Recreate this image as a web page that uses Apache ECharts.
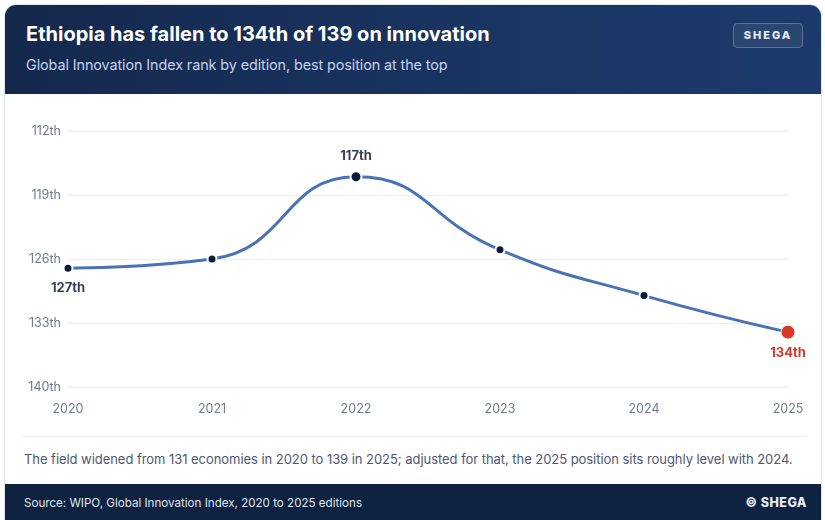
<!DOCTYPE html>
<html>
<head>
<meta charset="utf-8">
<script src="https://cdn.jsdelivr.net/npm/echarts@6/dist/echarts.min.js"></script>
<style>
  html, body { margin: 0; padding: 0; background: #ffffff; }
  body { width: 825px; height: 520px; overflow: hidden; font-family: Inter, "Noto Sans", sans-serif; }
  .card {
    position: absolute; left: 4px; top: 4px; width: 818px; height: 530px;
    border-radius: 12px; overflow: hidden; background: #fff;
    border: 1px solid #dfe3ea; box-sizing: border-box;
  }
  .head {
    position: absolute; left: 0; top: 0; right: 0; height: 89px;
    background: linear-gradient(90deg, #14284c 0%, #1a3563 60%, #1c3a6c 100%);
  }
  .title {
    position: absolute; left: 21px; top: 17px; color: #ffffff;
    font-size: 20px; font-weight: 700; letter-spacing: 0;
  }
  .sub {
    position: absolute; left: 21px; top: 51px; color: #c3d2ee;
    font-size: 14.4px; letter-spacing: -0.1px;
  }
  .badge {
    position: absolute; left: 728px; top: 18px; width: 70px; height: 25px;
    border: 1px solid #5b7299; border-radius: 4px; background: #2c4672;
    box-sizing: border-box; color: #e6ecf7; font-size: 11px; font-weight: 800;
    letter-spacing: 2px; text-align: center; line-height: 23px;
  }
  #chart { position: absolute; left: 0; top: 89px; width: 816px; height: 343px; }
  .rule { position: absolute; left: 18px; right: 14px; top: 431px; height: 1px; background: #eceef3; }
  .note {
    position: absolute; left: 19px; top: 446px; color: #4d5873;
    font-size: 13px; letter-spacing: -0.05px; white-space: nowrap;
  }
  .foot {
    position: absolute; left: 0; right: 0; top: 479px; height: 60px; background: #0f2241;
  }
  .src { position: absolute; left: 19px; top: 12px; color: #dfe6f2; font-size: 11.6px; }
  .copy { position: absolute; right: 14px; top: 11px; color: #e8edf6; font-size: 12.5px; font-weight: 800; letter-spacing: 0.5px; }
</style>
</head>
<body>
<div class="card">
  <div class="head">
    <div class="title">Ethiopia has fallen to 134th of 139 on innovation</div>
    <div class="sub">Global Innovation Index rank by edition, best position at the top</div>
    <div class="badge">SHEGA</div>
  </div>
  <div id="chart"></div>
  <div class="rule"></div>
  <div class="note">The field widened from 131 economies in 2020 to 139 in 2025; adjusted for that, the 2025 position sits roughly level with 2024.</div>
  <div class="foot">
    <div class="src">Source: WIPO, Global Innovation Index, 2020 to 2025 editions</div>
    <div class="copy">© SHEGA</div>
  </div>
</div>
<script>
var years = ['2020', '2021', '2022', '2023', '2024', '2025'];
var ranks = [127, 126, 117, 125, 130, 134];
var labelled = ['2020', '2022', '2025'];
var labelSide = { '2020': 'bottom', '2022': 'top', '2025': 'bottom' };

var points = [];
for (var i = 0; i < ranks.length; i++) {
  var y = years[i];
  var last = (i === ranks.length - 1);
  var item = {
    value: ranks[i],
    symbolSize: last ? 14 : (y === '2022' ? 11 : 9),
    itemStyle: {
      color: last ? '#d8392b' : '#0c1b3b',
      borderColor: '#ffffff',
      borderWidth: last ? 1 : 2
    },
    label: { show: false }
  };
  if (labelled.indexOf(y) >= 0) {
    item.label = {
      show: true,
      position: labelSide[y],
      distance: last ? 7 : 8,
      formatter: ranks[i] + 'th',
      color: last ? '#d6392c' : '#3a4256',
      fontWeight: 700,
      fontSize: 13,
      fontFamily: 'Inter'
    };
  }
  points.push(item);
}

var chart = echarts.init(document.getElementById('chart'));
chart.setOption({
  animation: false,
  grid: { left: 63, right: 33, top: 37, bottom: 50 },
  xAxis: {
    type: 'category',
    data: years,
    boundaryGap: false,
    axisLine: { show: false },
    axisTick: { show: false },
    axisLabel: { color: '#6f7a90', fontSize: 12.5, fontFamily: 'Inter', margin: 16 }
  },
  yAxis: {
    type: 'value',
    inverse: true,
    min: 112,
    max: 140,
    interval: 7,
    axisLine: { show: false },
    axisTick: { show: false },
    axisLabel: {
      color: '#6f7a90', fontSize: 12.5, fontFamily: 'Inter', margin: 7,
      formatter: function (v) { return v + 'th'; }
    },
    splitLine: { lineStyle: { color: '#eceef4', width: 1 } }
  },
  series: [{
    type: 'line',
    data: points,
    smooth: 0.5,
    symbol: 'circle',
    showAllSymbol: true,
    lineStyle: { color: '#4a72b7', width: 3 },
    z: 3
  }]
});
</script>
</body>
</html>
